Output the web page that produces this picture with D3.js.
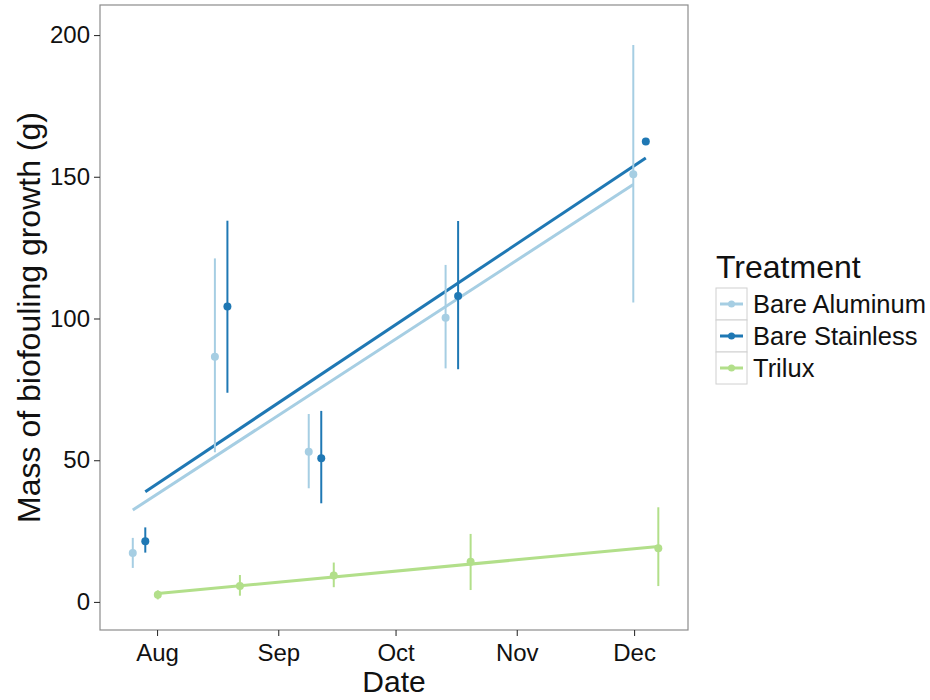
<!DOCTYPE html>
<html>
<head>
<meta charset="utf-8">
<script src="https://cdn.jsdelivr.net/npm/d3@7"></script>
<style>
  html, body { margin: 0; padding: 0; background: #fff; }
  svg { display: block; font-family: "Liberation Sans", Arial, sans-serif; }
</style>
</head>
<body>
<svg id="chart" width="930" height="700"></svg>
<script>
// Sampling visits
const sampleDates = ["2015-07-29", "2015-08-19", "2015-09-12", "2015-10-17", "2015-12-04"];
const treatments = ["Bare Aluminum", "Bare Stainless", "Trilux"];

// Mean biomass (g) with lower / upper error limits per visit
const aluminumMean = [17.3, 86.5, 53.0, 100.3, 150.9];
const aluminumLow  = [12.0, 52.8, 40.1, 82.4, 105.6];
const aluminumHigh = [22.6, 121.2, 66.3, 118.9, 196.5];

const stainlessMean = [21.4, 104.2, 50.7, 107.9, 162.4];
const stainlessLow  = [17.4, 73.8, 34.8, 82.1, null];
const stainlessHigh = [26.3, 134.5, 67.4, 134.4, null];

const triluxMean = [2.5, 5.6, 9.3, 14.2, 18.9];
const triluxLow  = [0.9, 2.2, 5.2, 4.2, 5.6];
const triluxHigh = [4.1, 9.5, 13.9, 24.0, 33.4];

const yTicks = [0, 50, 100, 150, 200];
const monthTicks = ["2015-08-01", "2015-09-01", "2015-10-01", "2015-11-01", "2015-12-01"];
const colors = ["#a6cee3", "#1f78b4", "#b2df8a"];

const groups = [
  { name: treatments[0], mean: aluminumMean, low: aluminumLow, high: aluminumHigh, color: colors[0] },
  { name: treatments[1], mean: stainlessMean, low: stainlessLow, high: stainlessHigh, color: colors[1] },
  { name: treatments[2], mean: triluxMean, low: triluxLow, high: triluxHigh, color: colors[2] }
];

const DAY = 864e5;
const dodgeDays = 3.2;            // side-by-side spacing of treatments at each visit
const parse = d3.utcParse("%Y-%m-%d");

const panel = { left: 100, right: 688, top: 5, bottom: 630 };
const svg = d3.select("#chart");

const x = d3.scaleUtc()
  .domain([new Date(Date.UTC(2015, 6, 17, 10)), new Date(Date.UTC(2015, 11, 14, 19))])
  .range([panel.left, panel.right]);
const y = d3.scaleLinear()
  .domain([-9.9, 210.6])
  .range([panel.bottom, panel.top]);

// Dodged observations
groups.forEach((g, gi) => {
  const off = (gi - 1) * dodgeDays * DAY;
  g.pts = sampleDates.map((d, i) => ({
    t: new Date(parse(d).getTime() + off),
    v: g.mean[i], lo: g.low[i], hi: g.high[i]
  }));
  // least-squares trend through the dodged points
  const xs = g.pts.map(p => p.t.getTime() / DAY), ys = g.pts.map(p => p.v);
  const mx = d3.mean(xs), my = d3.mean(ys);
  const slope = d3.sum(xs, (v, i) => (v - mx) * (ys[i] - my)) / d3.sum(xs, v => (v - mx) * (v - mx));
  const ext = d3.extent(xs);
  g.fit = ext.map(d => ({ t: new Date(d * DAY), v: my + slope * (d - mx) }));
});

// Panel border
svg.append("rect")
  .attr("x", panel.left).attr("y", panel.top)
  .attr("width", panel.right - panel.left).attr("height", panel.bottom - panel.top)
  .attr("fill", "#fff").attr("stroke", "#8c8c8c").attr("stroke-width", 1.2);

// Axes
const yAxis = svg.append("g")
  .attr("transform", `translate(${panel.left},0)`)
  .call(d3.axisLeft(y).tickValues(yTicks).tickSize(6).tickPadding(4));
const xAxis = svg.append("g")
  .attr("transform", `translate(0,${panel.bottom})`)
  .call(d3.axisBottom(x).tickValues(monthTicks.map(parse)).tickFormat(d3.utcFormat("%b")).tickSize(6).tickPadding(8));
[yAxis, xAxis].forEach(a => {
  a.select(".domain").remove();
  a.selectAll(".tick line").attr("stroke", "#333").attr("stroke-width", 1.1);
  a.selectAll(".tick text").attr("fill", "#111").attr("font-size", 24);
});

// Trend lines
const line = d3.line().x(d => x(d.t)).y(d => y(d.v));
svg.append("g").selectAll("path").data(groups).join("path")
  .attr("d", g => line(g.fit))
  .attr("fill", "none").attr("stroke", g => g.color).attr("stroke-width", 3);

// Error bars and means
groups.forEach(g => {
  const gg = svg.append("g");
  gg.selectAll("line").data(g.pts.filter(p => p.lo != null)).join("line")
    .attr("x1", p => x(p.t)).attr("x2", p => x(p.t))
    .attr("y1", p => y(p.lo)).attr("y2", p => y(p.hi))
    .attr("stroke", g.color).attr("stroke-width", 2);
  gg.selectAll("circle").data(g.pts).join("circle")
    .attr("cx", p => x(p.t)).attr("cy", p => y(p.v)).attr("r", 4)
    .attr("fill", g.color);
});

// Axis titles
svg.append("text")
  .attr("x", (panel.left + panel.right) / 2).attr("y", 692)
  .attr("text-anchor", "middle").attr("font-size", 30).attr("fill", "#111")
  .text("Date");
svg.append("text")
  .attr("transform", `translate(40,${(panel.top + panel.bottom) / 2}) rotate(-90)`)
  .attr("text-anchor", "middle").attr("font-size", 32).attr("fill", "#111")
  .text("Mass of biofouling growth (g)");

// Legend
const legend = svg.append("g").attr("transform", "translate(716,0)");
legend.append("text").attr("x", 0).attr("y", 278)
  .attr("font-size", 32).attr("fill", "#111").text("Treatment");
const keyH = 32, keyTop = 288;
const rows = legend.selectAll("g.row").data(groups).join("g")
  .attr("class", "row")
  .attr("transform", (g, i) => `translate(0,${keyTop + i * keyH})`);
rows.append("rect").attr("width", 31).attr("height", keyH)
  .attr("fill", "#fff").attr("stroke", "#d0d0d0").attr("stroke-width", 1);
rows.append("line").attr("x1", 4).attr("x2", 27).attr("y1", keyH / 2).attr("y2", keyH / 2)
  .attr("stroke", g => g.color).attr("stroke-width", 3);
rows.append("circle").attr("cx", 15.5).attr("cy", keyH / 2).attr("r", 3.5)
  .attr("fill", g => g.color);
rows.append("text").attr("x", 37).attr("y", keyH / 2 + 9)
  .attr("font-size", 25.5).attr("fill", "#111").text(g => g.name);
</script>
</body>
</html>
